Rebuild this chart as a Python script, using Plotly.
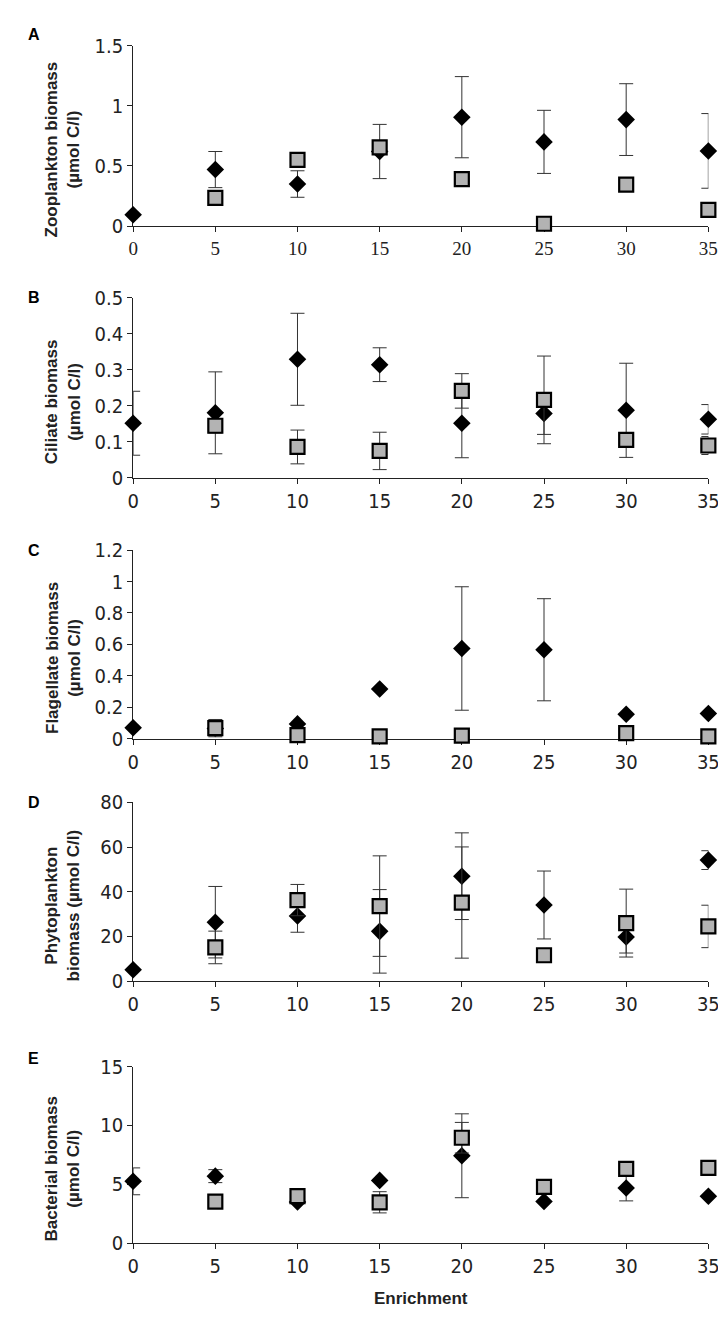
import plotly.graph_objects as go

W, H = 726, 1317

enrichment = [0, 5, 10, 15, 20, 25, 30, 35]

# Panel A - Zooplankton
zoo_diamond = [0.095, 0.47, 0.35, 0.62, 0.905, 0.70, 0.885, 0.625]
zoo_diamond_err = [0, 0.15, 0.11, 0.225, 0.337, 0.262, 0.298, 0.31]
zoo_square = [None, 0.235, 0.55, 0.655, 0.39, 0.02, 0.345, 0.135]
zoo_square_err = [0, 0, 0, 0, 0, 0, 0, 0]

# Panel B - Ciliates
cil_diamond = [0.151, 0.18, 0.329, 0.314, 0.151, 0.178, 0.187, 0.162]
cil_diamond_err = [0.089, 0.114, 0.128, 0.047, 0.096, 0.058, 0.131, 0.041]
cil_square = [None, 0.144, 0.085, 0.074, 0.241, 0.216, 0.105, 0.089]
cil_square_err = [0, 0.02, 0.047, 0.052, 0.048, 0.122, 0.02, 0.025]

# Panel C - Flagellates
fla_diamond = [0.07, 0.065, 0.094, 0.316, 0.574, 0.566, 0.156, 0.16]
fla_diamond_err = [0, 0, 0, 0, 0.393, 0.325, 0, 0]
fla_square = [None, 0.067, 0.023, 0.015, 0.019, None, 0.035, 0.015]
fla_square_err = [0, 0.055, 0, 0, 0, 0, 0, 0]

# Panel D - Phytoplankton
phy_diamond = [5.1, 26.4, 29.2, 22.3, 47.0, 34.1, 19.8, 54.2]
phy_diamond_err = [0, 16.0, 7.3, 18.7, 19.4, 15.2, 7.2, 4.2]
phy_square = [None, 15.1, 36.3, 33.6, 35.2, 11.6, 26.0, 24.5]
phy_square_err = [0, 7.3, 7.0, 22.5, 24.9, 0, 15.2, 9.5]

# Panel E - Bacteria
bac_diamond = [5.26, 5.7, 3.5, 5.34, 7.43, 3.55, 4.7, 4.0]
bac_diamond_err = [1.14, 0.55, 0, 0, 3.56, 0, 1.1, 0]
bac_square = [None, 3.53, 4.0, 3.48, 8.96, 4.79, 6.32, 6.4]
bac_square_err = [0, 0, 0, 0.9, 1.3, 0, 0, 0]

panel_letters = ["A", "B", "C", "D", "E"]
y_titles = [
    "Zooplankton biomass<br>(µmol C/l)",
    "Ciliate biomass<br>(µmol C/l)",
    "Flagellate biomass<br>(µmol C/l)",
    "Phytoplankton<br>biomass (µmol C/l)",
    "Bacterial biomass<br>(µmol C/l)",
]
y_max = [1.5, 0.5, 1.2, 80, 15]
y_dtick = [0.5, 0.1, 0.2, 20, 5]
x_title = "Enrichment"

panels = [
    (zoo_diamond, zoo_diamond_err, zoo_square, zoo_square_err),
    (cil_diamond, cil_diamond_err, cil_square, cil_square_err),
    (fla_diamond, fla_diamond_err, fla_square, fla_square_err),
    (phy_diamond, phy_diamond_err, phy_square, phy_square_err),
    (bac_diamond, bac_diamond_err, bac_square, bac_square_err),
]

# layout geometry (pixels)
x_left, x_right = 122, 711
y_px = [(26, 210), (283, 466), (540, 732), (797, 979), (1066, 1246)]
letter_y = [15, 283, 540, 797, 1058]

SANS = "Liberation Sans, Arial, sans-serif"
NARROW = "Liberation Sans Narrow, Arial Narrow, DejaVu Sans Condensed, sans-serif"
SERIF = "Liberation Serif, Times New Roman, serif"


def py(y):
    return 1 - y / H


fig = go.Figure()
annotations = []

for i, (dy, de, sy, se) in enumerate(panels):
    n = i + 1
    xa = "x" if n == 1 else f"x{n}"
    ya = "y" if n == 1 else f"y{n}"
    fig.add_trace(go.Scatter(
        x=enrichment, y=dy, mode="markers", xaxis=xa, yaxis=ya,
        marker=dict(symbol="diamond", size=13.5, color="black", line=dict(width=0)),
        error_y=dict(type="data", array=de, visible=True, color="#333333", thickness=1, width=7),
        cliponaxis=False, showlegend=False,
    ))
    fig.add_trace(go.Scatter(
        x=enrichment, y=sy, mode="markers", xaxis=xa, yaxis=ya,
        marker=dict(symbol="square", size=14, color="#b3b3b3", line=dict(width=2.2, color="black")),
        error_y=dict(type="data", array=se, visible=True, color="#333333", thickness=1, width=7),
        cliponaxis=False, showlegend=False,
    ))
    top, bot = y_px[i]
    xkey = "xaxis" if n == 1 else f"xaxis{n}"
    ykey = "yaxis" if n == 1 else f"yaxis{n}"
    tickfont = dict(family=SERIF, size=19, color="#222") if n == 1 else dict(family=NARROW, size=20, color="#222")
    fig.update_layout({
        xkey: dict(
            domain=[x_left / W, x_right / W], range=[0, 35], anchor=ya,
            tickvals=enrichment, ticks="outside", ticklen=5, tickcolor="#222",
            showline=True, linecolor="#222", linewidth=1, showgrid=False, zeroline=False,
            tickfont=tickfont, layer="below traces",
        ),
        ykey: dict(
            domain=[py(bot), py(top)], range=[0, y_max[i]], anchor=xa,
            dtick=y_dtick[i], tick0=0, ticks="outside", ticklen=5, tickcolor="#222",
            showline=True, linecolor="#222", linewidth=1, showgrid=False, zeroline=False,
            tickfont=dict(family=NARROW, size=20, color="#222"), layer="below traces",
        ),
    })
    annotations.append(dict(
        x=12 / W, y=py(letter_y[i]), xref="paper", yref="paper", xanchor="left", yanchor="middle",
        text=f"<b>{panel_letters[i]}</b>", showarrow=False,
        font=dict(family=SANS, size=16, color="black"),
    ))
    annotations.append(dict(
        x=50 / W, y=py((top + bot) / 2 + 14), xref="paper", yref="paper",
        xanchor="center", yanchor="middle", textangle=-90,
        text=f"<b>{y_titles[i]}</b>", showarrow=False,
        font=dict(family=SANS, size=17, color="#222"),
    ))

annotations.append(dict(
    x=(x_left + x_right) / 2 / W, y=py(1302), xref="paper", yref="paper",
    xanchor="center", yanchor="middle", text=f"<b>{x_title}</b>", showarrow=False,
    font=dict(family=SANS, size=17, color="#222"),
))

fig.update_layout(
    width=W, height=H, margin=dict(l=0, r=0, t=0, b=0),
    paper_bgcolor="white", plot_bgcolor="white",
    annotations=annotations, showlegend=False,
)

fig.write_html("out.html")
